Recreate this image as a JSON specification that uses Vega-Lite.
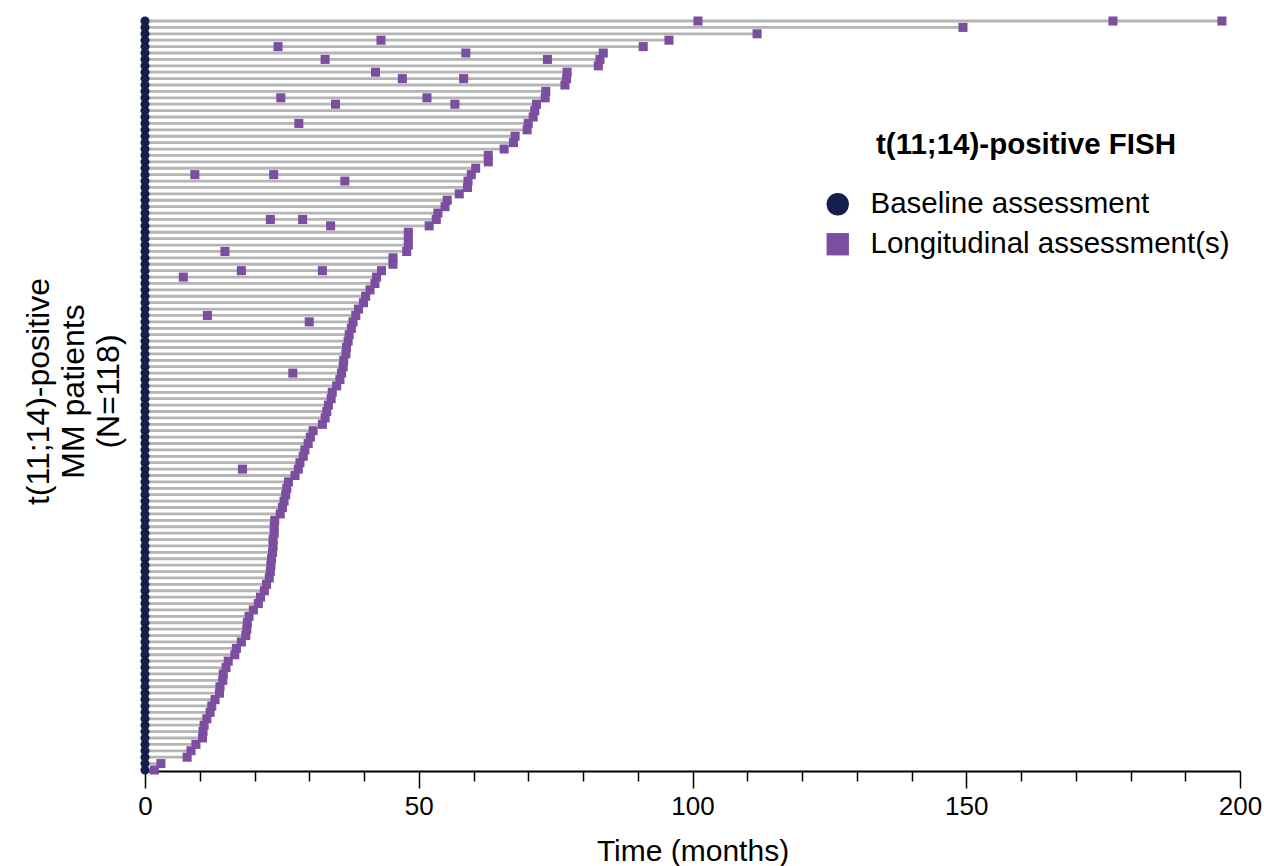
{
  "$schema": "https://vega.github.io/schema/vega-lite/v6.json",
  "width": 1095,
  "height": 760,
  "autosize": {"type": "none"},
  "padding": {"left": 145, "top": 11, "right": 24, "bottom": 95},
  "background": "white",
  "config": {
    "view": {"stroke": null},
    "font": "Liberation Sans"
  },
  "data": {
    "values": [
      {"p":1,"t":0,"k":"B"},{"p":1,"t":101.0,"k":"L"},{"p":1,"t":176.8,"k":"L"},{"p":1,"t":196.7,"k":"L"},
      {"p":2,"t":0,"k":"B"},{"p":2,"t":149.4,"k":"L"},
      {"p":3,"t":0,"k":"B"},{"p":3,"t":111.8,"k":"L"},
      {"p":4,"t":0,"k":"B"},{"p":4,"t":43.1,"k":"L"},{"p":4,"t":95.7,"k":"L"},
      {"p":5,"t":0,"k":"B"},{"p":5,"t":24.3,"k":"L"},{"p":5,"t":91.0,"k":"L"},
      {"p":6,"t":0,"k":"B"},{"p":6,"t":58.6,"k":"L"},{"p":6,"t":83.7,"k":"L"},
      {"p":7,"t":0,"k":"B"},{"p":7,"t":32.9,"k":"L"},{"p":7,"t":73.5,"k":"L"},{"p":7,"t":83.1,"k":"L"},
      {"p":8,"t":0,"k":"B"},{"p":8,"t":82.8,"k":"L"},
      {"p":9,"t":0,"k":"B"},{"p":9,"t":42.1,"k":"L"},{"p":9,"t":77.1,"k":"L"},
      {"p":10,"t":0,"k":"B"},{"p":10,"t":47.0,"k":"L"},{"p":10,"t":58.2,"k":"L"},{"p":10,"t":77.0,"k":"L"},
      {"p":11,"t":0,"k":"B"},{"p":11,"t":76.7,"k":"L"},
      {"p":12,"t":0,"k":"B"},{"p":12,"t":73.2,"k":"L"},
      {"p":13,"t":0,"k":"B"},{"p":13,"t":24.8,"k":"L"},{"p":13,"t":51.5,"k":"L"},{"p":13,"t":73.1,"k":"L"},
      {"p":14,"t":0,"k":"B"},{"p":14,"t":34.8,"k":"L"},{"p":14,"t":56.6,"k":"L"},{"p":14,"t":71.5,"k":"L"},
      {"p":15,"t":0,"k":"B"},{"p":15,"t":71.2,"k":"L"},
      {"p":16,"t":0,"k":"B"},{"p":16,"t":70.9,"k":"L"},
      {"p":17,"t":0,"k":"B"},{"p":17,"t":28.1,"k":"L"},{"p":17,"t":70.0,"k":"L"},
      {"p":18,"t":0,"k":"B"},{"p":18,"t":69.8,"k":"L"},
      {"p":19,"t":0,"k":"B"},{"p":19,"t":67.6,"k":"L"},
      {"p":20,"t":0,"k":"B"},{"p":20,"t":67.3,"k":"L"},
      {"p":21,"t":0,"k":"B"},{"p":21,"t":65.6,"k":"L"},
      {"p":22,"t":0,"k":"B"},{"p":22,"t":62.7,"k":"L"},
      {"p":23,"t":0,"k":"B"},{"p":23,"t":62.7,"k":"L"},
      {"p":24,"t":0,"k":"B"},{"p":24,"t":60.4,"k":"L"},
      {"p":25,"t":0,"k":"B"},{"p":25,"t":9.1,"k":"L"},{"p":25,"t":23.5,"k":"L"},{"p":25,"t":59.6,"k":"L"},
      {"p":26,"t":0,"k":"B"},{"p":26,"t":36.5,"k":"L"},{"p":26,"t":59.0,"k":"L"},
      {"p":27,"t":0,"k":"B"},{"p":27,"t":58.9,"k":"L"},
      {"p":28,"t":0,"k":"B"},{"p":28,"t":57.4,"k":"L"},
      {"p":29,"t":0,"k":"B"},{"p":29,"t":55.2,"k":"L"},
      {"p":30,"t":0,"k":"B"},{"p":30,"t":54.8,"k":"L"},
      {"p":31,"t":0,"k":"B"},{"p":31,"t":53.5,"k":"L"},
      {"p":32,"t":0,"k":"B"},{"p":32,"t":22.9,"k":"L"},{"p":32,"t":28.8,"k":"L"},{"p":32,"t":53.2,"k":"L"},
      {"p":33,"t":0,"k":"B"},{"p":33,"t":33.9,"k":"L"},{"p":33,"t":51.9,"k":"L"},
      {"p":34,"t":0,"k":"B"},{"p":34,"t":48.1,"k":"L"},
      {"p":35,"t":0,"k":"B"},{"p":35,"t":48.1,"k":"L"},
      {"p":36,"t":0,"k":"B"},{"p":36,"t":48.1,"k":"L"},
      {"p":37,"t":0,"k":"B"},{"p":37,"t":14.6,"k":"L"},{"p":37,"t":47.8,"k":"L"},
      {"p":38,"t":0,"k":"B"},{"p":38,"t":45.3,"k":"L"},
      {"p":39,"t":0,"k":"B"},{"p":39,"t":45.3,"k":"L"},
      {"p":40,"t":0,"k":"B"},{"p":40,"t":17.6,"k":"L"},{"p":40,"t":32.4,"k":"L"},{"p":40,"t":43.2,"k":"L"},
      {"p":41,"t":0,"k":"B"},{"p":41,"t":7.0,"k":"L"},{"p":41,"t":42.3,"k":"L"},
      {"p":42,"t":0,"k":"B"},{"p":42,"t":42.0,"k":"L"},
      {"p":43,"t":0,"k":"B"},{"p":43,"t":41.1,"k":"L"},
      {"p":44,"t":0,"k":"B"},{"p":44,"t":40.3,"k":"L"},
      {"p":45,"t":0,"k":"B"},{"p":45,"t":39.9,"k":"L"},
      {"p":46,"t":0,"k":"B"},{"p":46,"t":39.0,"k":"L"},
      {"p":47,"t":0,"k":"B"},{"p":47,"t":11.4,"k":"L"},{"p":47,"t":38.5,"k":"L"},
      {"p":48,"t":0,"k":"B"},{"p":48,"t":30.0,"k":"L"},{"p":48,"t":38.0,"k":"L"},
      {"p":49,"t":0,"k":"B"},{"p":49,"t":37.7,"k":"L"},
      {"p":50,"t":0,"k":"B"},{"p":50,"t":37.3,"k":"L"},
      {"p":51,"t":0,"k":"B"},{"p":51,"t":37.1,"k":"L"},
      {"p":52,"t":0,"k":"B"},{"p":52,"t":36.8,"k":"L"},
      {"p":53,"t":0,"k":"B"},{"p":53,"t":36.7,"k":"L"},
      {"p":54,"t":0,"k":"B"},{"p":54,"t":36.3,"k":"L"},
      {"p":55,"t":0,"k":"B"},{"p":55,"t":36.2,"k":"L"},
      {"p":56,"t":0,"k":"B"},{"p":56,"t":27.0,"k":"L"},{"p":56,"t":35.9,"k":"L"},
      {"p":57,"t":0,"k":"B"},{"p":57,"t":35.6,"k":"L"},
      {"p":58,"t":0,"k":"B"},{"p":58,"t":35.0,"k":"L"},
      {"p":59,"t":0,"k":"B"},{"p":59,"t":34.2,"k":"L"},
      {"p":60,"t":0,"k":"B"},{"p":60,"t":34.0,"k":"L"},
      {"p":61,"t":0,"k":"B"},{"p":61,"t":33.5,"k":"L"},
      {"p":62,"t":0,"k":"B"},{"p":62,"t":33.2,"k":"L"},
      {"p":63,"t":0,"k":"B"},{"p":63,"t":32.9,"k":"L"},
      {"p":64,"t":0,"k":"B"},{"p":64,"t":32.4,"k":"L"},
      {"p":65,"t":0,"k":"B"},{"p":65,"t":30.7,"k":"L"},
      {"p":66,"t":0,"k":"B"},{"p":66,"t":30.2,"k":"L"},
      {"p":67,"t":0,"k":"B"},{"p":67,"t":29.8,"k":"L"},
      {"p":68,"t":0,"k":"B"},{"p":68,"t":29.2,"k":"L"},
      {"p":69,"t":0,"k":"B"},{"p":69,"t":28.9,"k":"L"},
      {"p":70,"t":0,"k":"B"},{"p":70,"t":28.3,"k":"L"},
      {"p":71,"t":0,"k":"B"},{"p":71,"t":17.8,"k":"L"},{"p":71,"t":28.0,"k":"L"},
      {"p":72,"t":0,"k":"B"},{"p":72,"t":27.4,"k":"L"},
      {"p":73,"t":0,"k":"B"},{"p":73,"t":26.2,"k":"L"},
      {"p":74,"t":0,"k":"B"},{"p":74,"t":25.9,"k":"L"},
      {"p":75,"t":0,"k":"B"},{"p":75,"t":25.7,"k":"L"},
      {"p":76,"t":0,"k":"B"},{"p":76,"t":25.4,"k":"L"},
      {"p":77,"t":0,"k":"B"},{"p":77,"t":25.1,"k":"L"},
      {"p":78,"t":0,"k":"B"},{"p":78,"t":24.7,"k":"L"},
      {"p":79,"t":0,"k":"B"},{"p":79,"t":23.7,"k":"L"},
      {"p":80,"t":0,"k":"B"},{"p":80,"t":23.6,"k":"L"},
      {"p":81,"t":0,"k":"B"},{"p":81,"t":23.6,"k":"L"},
      {"p":82,"t":0,"k":"B"},{"p":82,"t":23.4,"k":"L"},
      {"p":83,"t":0,"k":"B"},{"p":83,"t":23.4,"k":"L"},
      {"p":84,"t":0,"k":"B"},{"p":84,"t":23.3,"k":"L"},
      {"p":85,"t":0,"k":"B"},{"p":85,"t":23.1,"k":"L"},
      {"p":86,"t":0,"k":"B"},{"p":86,"t":23.0,"k":"L"},
      {"p":87,"t":0,"k":"B"},{"p":87,"t":22.9,"k":"L"},
      {"p":88,"t":0,"k":"B"},{"p":88,"t":22.7,"k":"L"},
      {"p":89,"t":0,"k":"B"},{"p":89,"t":22.2,"k":"L"},
      {"p":90,"t":0,"k":"B"},{"p":90,"t":21.8,"k":"L"},
      {"p":91,"t":0,"k":"B"},{"p":91,"t":21.1,"k":"L"},
      {"p":92,"t":0,"k":"B"},{"p":92,"t":20.7,"k":"L"},
      {"p":93,"t":0,"k":"B"},{"p":93,"t":19.8,"k":"L"},
      {"p":94,"t":0,"k":"B"},{"p":94,"t":19.0,"k":"L"},
      {"p":95,"t":0,"k":"B"},{"p":95,"t":18.7,"k":"L"},
      {"p":96,"t":0,"k":"B"},{"p":96,"t":18.6,"k":"L"},
      {"p":97,"t":0,"k":"B"},{"p":97,"t":18.4,"k":"L"},
      {"p":98,"t":0,"k":"B"},{"p":98,"t":17.6,"k":"L"},
      {"p":99,"t":0,"k":"B"},{"p":99,"t":16.7,"k":"L"},
      {"p":100,"t":0,"k":"B"},{"p":100,"t":16.4,"k":"L"},
      {"p":101,"t":0,"k":"B"},{"p":101,"t":15.2,"k":"L"},
      {"p":102,"t":0,"k":"B"},{"p":102,"t":14.8,"k":"L"},
      {"p":103,"t":0,"k":"B"},{"p":103,"t":14.3,"k":"L"},
      {"p":104,"t":0,"k":"B"},{"p":104,"t":14.2,"k":"L"},
      {"p":105,"t":0,"k":"B"},{"p":105,"t":13.7,"k":"L"},
      {"p":106,"t":0,"k":"B"},{"p":106,"t":13.6,"k":"L"},
      {"p":107,"t":0,"k":"B"},{"p":107,"t":12.8,"k":"L"},
      {"p":108,"t":0,"k":"B"},{"p":108,"t":12.2,"k":"L"},
      {"p":109,"t":0,"k":"B"},{"p":109,"t":11.9,"k":"L"},
      {"p":110,"t":0,"k":"B"},{"p":110,"t":11.3,"k":"L"},
      {"p":111,"t":0,"k":"B"},{"p":111,"t":10.8,"k":"L"},
      {"p":112,"t":0,"k":"B"},{"p":112,"t":10.6,"k":"L"},
      {"p":113,"t":0,"k":"B"},{"p":113,"t":10.5,"k":"L"},
      {"p":114,"t":0,"k":"B"},{"p":114,"t":9.3,"k":"L"},
      {"p":115,"t":0,"k":"B"},{"p":115,"t":8.4,"k":"L"},
      {"p":116,"t":0,"k":"B"},{"p":116,"t":7.7,"k":"L"},
      {"p":117,"t":0,"k":"B"},{"p":117,"t":2.9,"k":"L"},
      {"p":118,"t":0,"k":"B"},{"p":118,"t":1.7,"k":"L"}
    ]
  },
  "layer": [
    {
      "mark": {"type": "rule", "color": "#b4b4b4", "strokeWidth": 2.8},
      "encoding": {
        "x": {"aggregate": "min", "field": "t", "type": "quantitative"},
        "x2": {"aggregate": "max", "field": "t"},
        "y": {"field": "p", "type": "quantitative"}
      }
    },
    {
      "mark": {"type": "point", "filled": true, "opacity": 1, "size": 82},
      "encoding": {
        "x": {
          "field": "t", "type": "quantitative",
          "scale": {"domain": [0, 200], "nice": false, "zero": false},
          "axis": {
            "title": "Time (months)",
            "values": [0,5,10,15,20,25,30,35,40,45,50,55,60,65,70,75,80,85,90,95,100,105,110,115,120,125,130,135,140,145,150,155,160,165,170,175,180,185,190,195,200],
            "labelExpr": "datum.value % 50 === 0 ? datum.label : ''",
            "labelOverlap": false,
            "labelFlush": false,
            "grid": false,
            "domainColor": "#000000",
            "domainWidth": 2,
            "tickColor": "#000000",
            "tickWidth": 1.5,
            "tickSize": {"condition": {"test": "datum.value % 50 === 0", "value": 17}, "value": 10},
            "labelFontSize": 26,
            "labelColor": "#000000",
            "labelFont": "Liberation Sans",
            "labelPadding": 5,
            "titleFontSize": 30,
            "titleFontWeight": "normal",
            "titleColor": "#000000",
            "titleFont": "Liberation Sans",
            "titlePadding": 17
          }
        },
        "y": {
          "field": "p", "type": "quantitative",
          "scale": {"domain": [-0.562, 118.158], "nice": false, "zero": false, "reverse": true},
          "axis": {
            "title": ["t(11;14)-positive", "MM patients", "(N=118)"],
            "domain": false, "ticks": false, "labels": false, "grid": false,
            "titleFontSize": 32,
            "titleFontWeight": "normal",
            "titleColor": "#000000",
            "titleFont": "Liberation Sans",
            "titleLineHeight": 35,
            "titlePadding": 20
          }
        },
        "shape": {
          "field": "k", "type": "nominal",
          "scale": {"domain": ["B", "L"], "range": ["circle", "square"]},
          "legend": null
        },
        "color": {
          "field": "k", "type": "nominal",
          "scale": {"domain": ["B", "L"], "range": ["#141f4b", "#7b4ea0"]},
          "legend": {
            "title": "t(11;14)-positive FISH",
            "orient": "none",
            "legendX": 678,
            "legendY": 120,
            "labelExpr": "datum.label === 'B' ? 'Baseline assessment' : 'Longitudinal assessment(s)'",
            "symbolType": "circle",
            "symbolSize": 500,
            "symbolStrokeWidth": 0,
            "symbolOpacity": 1,
            "labelFontSize": 29.5,
            "labelFont": "Liberation Sans",
            "labelColor": "#000000",
            "labelOffset": 18,
            "labelLimit": 500,
            "rowPadding": 9,
            "titleFontSize": 29.5,
            "titleFont": "Liberation Sans",
            "titleFontWeight": "bold",
            "titleColor": "#000000",
            "titleAnchor": "middle",
            "titlePadding": 29,
            "titleLimit": 600
          }
        }
      }
    }
  ]
}
